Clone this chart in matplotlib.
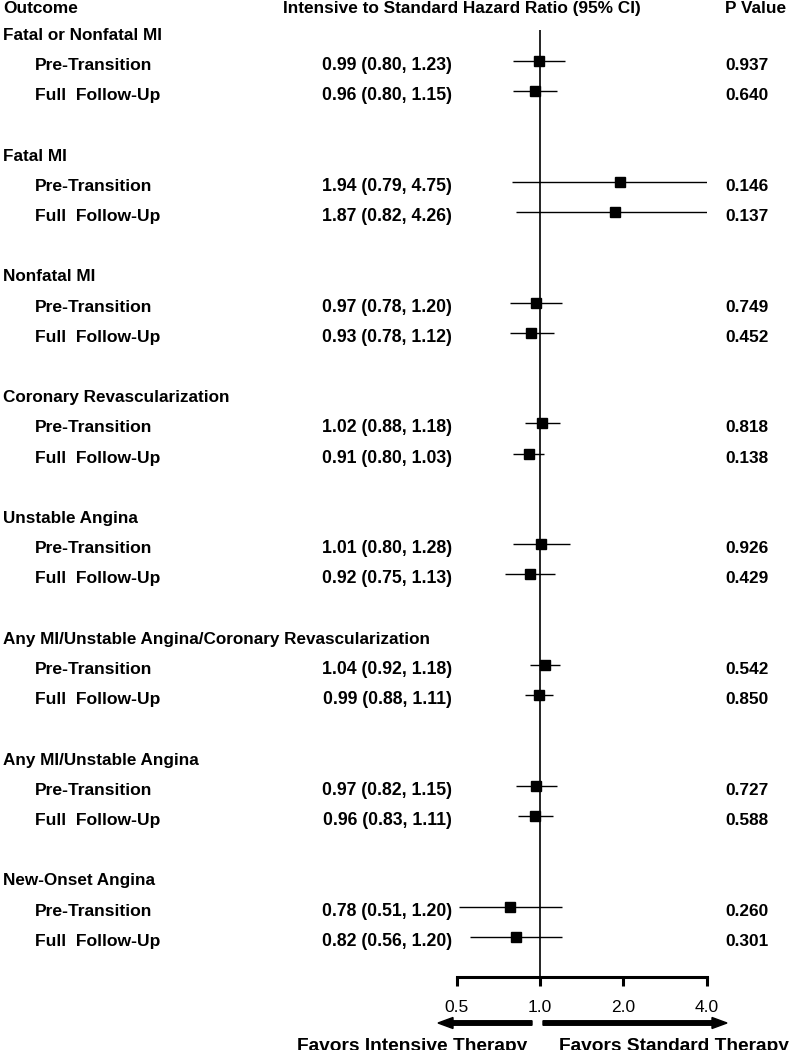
import matplotlib
matplotlib.use("Agg")
import matplotlib.pyplot as plt
from matplotlib.transforms import blended_transform_factory, IdentityTransform
from matplotlib.patches import FancyArrow
from matplotlib.ticker import FixedLocator, NullLocator

# ---------------- data ----------------
groups = ["Fatal or Nonfatal MI", "Fatal MI", "Nonfatal MI", "Coronary Revascularization",
          "Unstable Angina", "Any MI/Unstable Angina/Coronary Revascularization",
          "Any MI/Unstable Angina", "New-Onset Angina"]
periods = ["Pre-Transition", "Full  Follow-Up"]

hr_pre = [0.99, 1.94, 0.97, 1.02, 1.01, 1.04, 0.97, 0.78]
lo_pre = [0.80, 0.79, 0.78, 0.88, 0.80, 0.92, 0.82, 0.51]
hi_pre = [1.23, 4.75, 1.20, 1.18, 1.28, 1.18, 1.15, 1.20]
p_pre = ["0.937", "0.146", "0.749", "0.818", "0.926", "0.542", "0.727", "0.260"]

hr_full = [0.96, 1.87, 0.93, 0.91, 0.92, 0.99, 0.96, 0.82]
lo_full = [0.80, 0.82, 0.78, 0.80, 0.75, 0.88, 0.83, 0.56]
hi_full = [1.15, 4.26, 1.12, 1.03, 1.13, 1.11, 1.11, 1.20]
p_full = ["0.640", "0.137", "0.452", "0.138", "0.429", "0.850", "0.588", "0.301"]

xticks = [0.5, 1.0, 2.0, 4.0]
xtick_labels = ["0.5", "1.0", "2.0", "4.0"]

header_outcome = "Outcome"
header_hr = "Intensive to Standard Hazard Ratio (95% CI)"
header_p = "P Value"
favors_left = "Favors Intensive Therapy"
favors_right = "Favors Standard Therapy"

# ---------------- layout ----------------
W, H = 791, 1050
DPI = 100
plt.rcParams['font.family'] = ['Liberation Sans', 'DejaVu Sans']

fig = plt.figure(figsize=(W / DPI, H / DPI), dpi=DPI)

x0_px, x1_px = 456.7, 706.7
axis_px = 977
ax = fig.add_axes([x0_px / W, (H - axis_px) / H, (x1_px - x0_px) / W, axis_px / H])

row0_px = 30.8
row_h = 30.2
y_top = -row0_px / row_h
y_bot = (axis_px - row0_px) / row_h

ax.set_xscale('log')
ax.set_xlim(0.5, 4.0)
ax.set_ylim(y_bot, y_top)

for s in ['top', 'left', 'right']:
    ax.spines[s].set_visible(False)
ax.spines['bottom'].set_linewidth(2.2)
ax.spines['bottom'].set_capstyle('projecting')
ax.xaxis.set_major_locator(FixedLocator(xticks))
ax.xaxis.set_minor_locator(NullLocator())
ax.set_xticklabels(xtick_labels)
ax.tick_params(axis='x', direction='out', length=6.5, width=2.2, pad=10, labelsize=12.5)
ax.set_yticks([])
ax.patch.set_alpha(0)

# reference line
ax.vlines(1.0, (30 - row0_px) / row_h, y_bot, color='black', lw=1.2, zorder=2)

rows_pre = [4 * g + 1 for g in range(len(groups))]
rows_full = [4 * g + 2 for g in range(len(groups))]

for hr, lo, hi, rows in [(hr_pre, lo_pre, hi_pre, rows_pre), (hr_full, lo_full, hi_full, rows_full)]:
    ax.hlines(rows, lo, hi, color='black', lw=1.0, zorder=3)
    ax.plot(hr, rows, ls='none', marker='s', ms=7.6, color='black', zorder=4)

# ---------------- text ----------------
tr = blended_transform_factory(fig.transFigure, ax.transData)
dy = 0.15  # text sits slightly below the marker centre line
kw = dict(transform=tr, fontweight='bold', va='center', clip_on=False)

ax.text(3 / W, -0.74, header_outcome, ha='left', fontsize=12.4, **kw)
ax.text(461.5 / W, -0.74, header_hr, ha='center', fontsize=12.4, **kw)
ax.text(725 / W, -0.74, header_p, ha='left', fontsize=12.4, **kw)

for g, name in enumerate(groups):
    ax.text(3 / W, 4 * g + dy, name, ha='left', fontsize=12.3, **kw)
    for rows, per, hr, lo, hi, p in [(rows_pre, periods[0], hr_pre, lo_pre, hi_pre, p_pre),
                                     (rows_full, periods[1], hr_full, lo_full, hi_full, p_full)]:
        r = rows[g] + dy
        ax.text(35 / W, r, per, ha='left', fontsize=12.6, **kw)
        ax.text(452 / W, r, f"{hr[g]:.2f} ({lo[g]:.2f}, {hi[g]:.2f})", ha='right',
                fontsize=12.7, **kw)
        ax.text(725 / W, r, p[g], ha='left', fontsize=12.4, **kw)

# favors arrows and labels
arr_y = H - 1023
fig.add_artist(FancyArrow(532, arr_y, -94, 0, width=4.5, head_width=11, head_length=15,
                          length_includes_head=True, color='black', transform=IdentityTransform()))
fig.add_artist(FancyArrow(543, arr_y, 184, 0, width=4.5, head_width=11, head_length=15,
                          length_includes_head=True, color='black', transform=IdentityTransform()))
fig.text(412.5 / W, (H - 1051) / H, favors_left, ha='center', va='baseline',
         fontsize=13.8, fontweight='bold')
fig.text(673.5 / W, (H - 1051) / H, favors_right, ha='center', va='baseline',
         fontsize=13.8, fontweight='bold')

fig.savefig("out.png", dpi=DPI)
